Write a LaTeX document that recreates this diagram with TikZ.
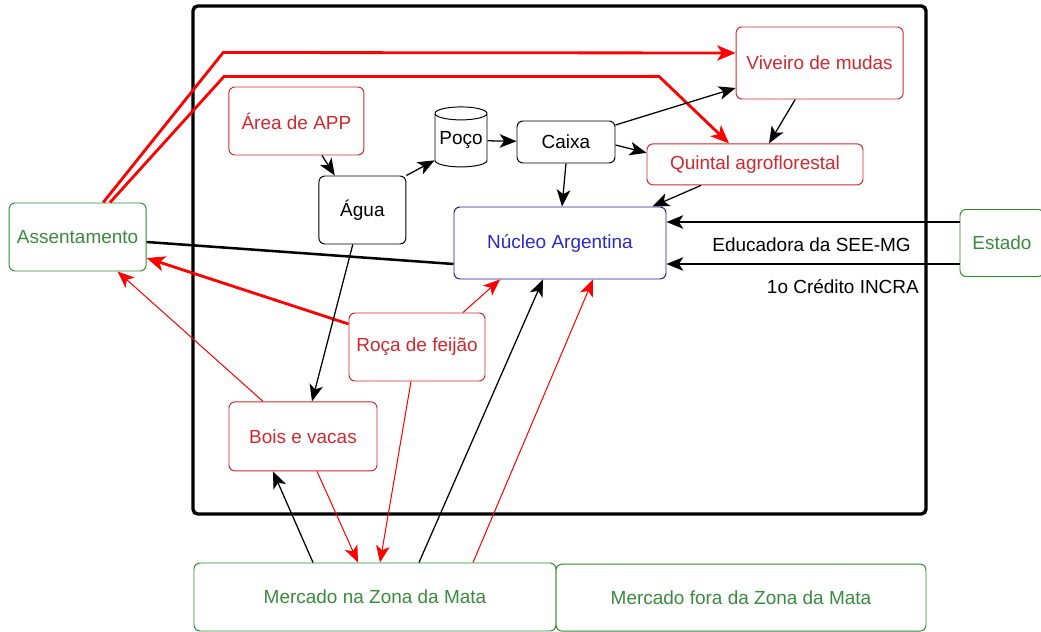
\documentclass[tikz,border=0pt]{standalone}
\usepackage{fontspec}
\setmainfont{Liberation Sans}
\usetikzlibrary{arrows.meta,shapes.geometric}
\definecolor{txtred}{HTML}{D0282E}
\definecolor{linered}{HTML}{FF0000}
\definecolor{txtgreen}{HTML}{3A8A3E}
\definecolor{boxgreen}{HTML}{2E8B2E}
\definecolor{txtblue}{HTML}{2A2AC4}
\definecolor{boxblue}{HTML}{1C1C96}
\begin{document}
\begin{tikzpicture}[font=\fontsize{13.5}{16}\selectfont,
    box/.style ={rectangle, rounded corners=0.15cm, draw, line width=0.7pt, inner sep=0pt, align=center},
    redbox/.style ={box, draw=txtred, text=txtred},
    greenbox/.style ={box, draw=boxgreen, text=txtgreen},
    blackbox/.style ={box, draw=black, text=black},
    bluebox/.style ={box, draw=boxblue, text=txtblue},
    arr/.style ={-{Stealth[length=4.2mm,width=3.4mm,inset=1.1mm]}, line width=0.9pt},
    redarr/.style ={arr, draw=linered, fill=linered, line width=0.7pt},
    thickred/.style ={-{Stealth[length=4.6mm,width=3.8mm,inset=1.2mm]}, draw=linered, line width=2pt}]
   \useasboundingbox (0,0) rectangle (26.025,-15.8);
   \draw[line width=2.4pt, rounded corners=0.12cm] (4.825,-0.15) rectangle (23.15,-12.85);
   % nodes
   \node[redbox, minimum width=4.175cm, minimum height=1.8cm] (viveiro) at (20.49,-1.575) {Viveiro de mudas};
   \node[redbox, minimum width=3.375cm, minimum height=1.7cm] (app) at (7.41,-3.025) {Área de APP};
   \node[cylinder, shape border rotate=90, draw, line width=0.7pt, aspect=0.3, inner sep=0pt,
         minimum width=1.3cm, minimum height=1.5cm] (poco) at (11.525,-3.51) {Poço};
   \node[blackbox, minimum width=2.45cm, minimum height=1.05cm] (caixa) at (14.15,-3.55) {Caixa};
   \node[redbox, minimum width=5.4cm, minimum height=1.025cm] (quintal) at (18.875,-4.11) {Quintal agroflorestal};
   \node[blackbox, minimum width=2.175cm, minimum height=1.7cm] (agua) at (9.06,-5.25) {Água};
   \node[bluebox, minimum width=5.3cm, minimum height=1.8cm] (nucleo) at (14.0,-6.075) {Núcleo Argentina};
   \node[greenbox, minimum width=3.425cm, minimum height=1.7cm] (assent) at (1.94,-5.925) {Assentamento};
   \node[greenbox, minimum width=2.1cm, minimum height=1.675cm] (estado) at (25.05,-6.075) {Estado};
   \node[redbox, minimum width=3.4cm, minimum height=1.7cm] (roca) at (10.425,-8.675) {Roça de feijão};
   \node[redbox, minimum width=3.7cm, minimum height=1.725cm] (bois) at (7.575,-10.91) {Bois e vacas};
   \node[greenbox, minimum width=9.05cm, minimum height=1.7cm] (mzm) at (9.375,-14.925) {Mercado na Zona da Mata};
   \node[greenbox, minimum width=9.25cm, minimum height=1.675cm] (mfora) at (18.525,-14.94) {Mercado fora da Zona da Mata};
   % red thick lines from Assentamento
   \draw[thickred] ([xshift=0.64cm]assent.north) -- ++(3.0,3.75) -- ([yshift=0.25cm]viveiro.west);
   \draw[thickred] ([xshift=0.81cm]assent.north) -- ++(2.85,3.15) -- ([xshift=-2.4cm,yshift=1.675cm]quintal.north)
      -- ([xshift=-0.65cm]quintal.north);
   \draw[line width=1.8pt] ([yshift=-0.125cm]assent.east) -- ([yshift=-0.525cm]nucleo.west);
   \draw[thickred] ([yshift=0.575cm]roca.west) -- ([yshift=-0.525cm]assent.east);
   \draw[redarr] ([xshift=-1.0cm]bois.north) -- ([xshift=1.0cm]assent.south);
   % water
   \draw[arr] ([xshift=0.64cm]app.south) -- ([xshift=-0.69cm]agua.north);
   \draw[arr] (agua.north east) -- (poco.217);
   \draw[arr] (poco) -- (caixa);
   \draw[arr] ([yshift=0.425cm]caixa.east) -- ([yshift=-0.625cm]viveiro.west);
   \draw[arr] ([yshift=-0.075cm]caixa.east) -- ([yshift=0.29cm]quintal.west);
   \draw[arr] (caixa.south) -- ([xshift=0.05cm]nucleo.north);
   \draw[arr] ([xshift=-0.61cm]viveiro.south) -- ([xshift=0.35cm]quintal.north);
   \draw[arr] ([xshift=-1.35cm]quintal.south) -- ([xshift=-0.35cm]nucleo.north east);
   \draw[arr] ([xshift=-0.24cm]agua.south) -- ([xshift=0.225cm]bois.north);
   % Estado
   \draw[arr] ([yshift=0.525cm]estado.west) -- ([yshift=0.525cm]nucleo.east)
      node[pos=0.505, yshift=-0.575cm] (educ) {Educadora da SEE-MG};
   \draw[arr] ([yshift=-0.525cm]estado.west) -- ([yshift=-0.525cm]nucleo.east)
      node[pos=0.398, yshift=-0.575cm] (credito) {1o Crédito INCRA};
   % roca and market
   \draw[redarr] ([xshift=1.15cm]roca.north) -- ([xshift=-1.5cm]nucleo.south);
   \draw[redarr] ([xshift=0.35cm]bois.south) -- ([xshift=-0.425cm]mzm.north);
   \draw[redarr] ([xshift=-0.15cm]roca.south) -- ([xshift=0.125cm]mzm.north);
   \draw[arr] ([xshift=-1.55cm]mzm.north) -- ([xshift=-0.75cm]bois.south);
   \draw[arr] ([xshift=1.1cm]mzm.north) -- ([xshift=-0.425cm]nucleo.south);
   \draw[redarr] ([xshift=2.45cm]mzm.north) -- ([xshift=0.825cm]nucleo.south);
\end{tikzpicture}
\end{document}
